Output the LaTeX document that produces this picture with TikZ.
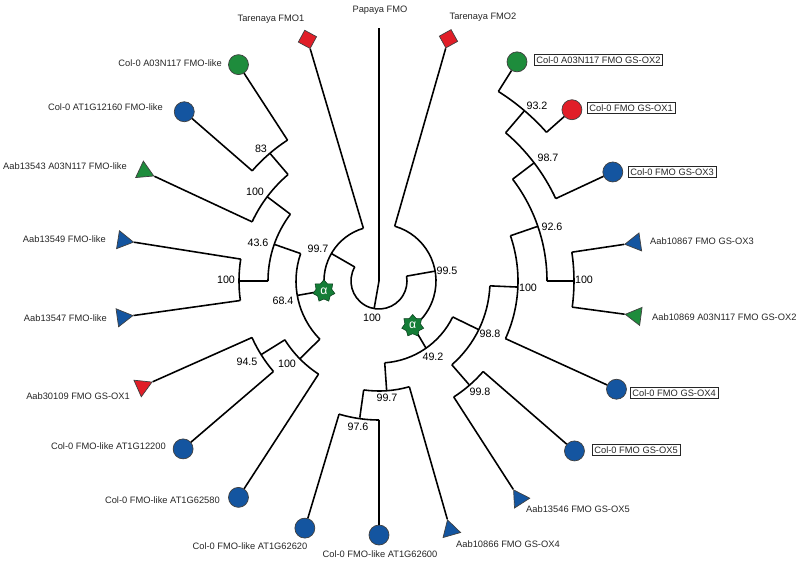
\documentclass[tikz,border=0pt]{standalone}
\usepackage{fontspec}
\setmainfont{Liberation Sans}
\usetikzlibrary{shapes.geometric}

\definecolor{fmoblue}{RGB}{20,85,160}
\definecolor{fmogreen}{RGB}{30,140,60}
\definecolor{fmored}{RGB}{225,30,40}
\definecolor{stargreen}{RGB}{20,125,55}

\tikzset{
	br/.style={line width=0.9pt},
	mk/.style={draw=black!75,line width=0.4pt,inner sep=0pt},
	dot/.style={mk,circle,minimum size=0.4cm,fill=#1},
	tri/.style={mk,regular polygon,regular polygon sides=3,minimum size=0.42cm,shape border rotate=#1},
	sq/.style={mk,regular polygon,regular polygon sides=4,minimum size=0.38cm,fill=fmored,shape border rotate=#1},
	alf/.style={star,star points=7,star point ratio=1.4,fill=stargreen,draw=black!50!stargreen,line width=0.3pt,inner sep=0.8pt,minimum size=0.45cm,text=white,font=\fontsize{7}{8}\selectfont},
	leaf/.style={inner sep=0.5pt,font=\fontsize{5.3}{6}\selectfont,text=black!85},
	boxed/.style={leaf,draw=black!85,line width=0.35pt,inner sep=1.2pt},
	bs/.style={inner sep=0pt,font=\fontsize{6.1}{7}\selectfont},
}

\begin{document}
\begin{tikzpicture}[scale=0.02]
	\useasboundingbox (-379,-280) rectangle (421,281);
	% leaf markers
	\node[sq=61.5] (tar1) at (106.5:252) {};
	\node[sq=29] (tar2) at (74:252) {};
	\node[dot=fmogreen] (a03like) at (123:258) {};
	\node[dot=fmoblue] (at12160) at (139:258) {};
	\node[tri=245,fill=fmogreen] (aab13543) at (155:259) {};
	\node[tri=261,fill=fmoblue] (aab13549) at (171:259) {};
	\node[tri=278,fill=fmoblue] (aab13547) at (188:259) {};
	\node[tri=294,fill=fmored] (aab30109) at (204:259) {};
	\node[dot=fmoblue] (at12200) at (220.6:258) {};
	\node[dot=fmoblue] (at62580) at (237:258) {};
	\node[dot=fmoblue] (at62620) at (253.3:258) {};
	\node[dot=fmoblue] (at62600) at (270:254) {};
	\node[tri=16,fill=fmoblue] (aab10866) at (286:259) {};
	\node[tri=32.8,fill=fmoblue] (aab13546) at (302.8:259) {};
	\node[dot=fmoblue] (ox5) at (-41:259) {};
	\node[dot=fmoblue] (ox4) at (-24.5:261) {};
	\node[tri=82.3,fill=fmogreen] (aab10869) at (-7.7:259) {};
	\node[tri=98.5,fill=fmoblue] (aab10867) at (8.5:259) {};
	\node[dot=fmoblue] (ox3) at (25:258) {};
	\node[dot=fmored] (ox1) at (41.6:258) {};
	\node[dot=fmogreen] (ox2) at (57.8:259) {};

	% root
	\coordinate (root) at (260:28);
	\draw[br] (root) -- (0,0) -- (0,253) coordinate (papaya);
	\draw[br] (150:28) arc[start angle=150, end angle=370, radius=28];

	% left half
	\coordinate (n997) at (150:55);
	\draw[br] (150:28) -- (n997);
	\draw[br] (106.5:55) arc[start angle=106.5, end angle=190, radius=55];
	\draw[br] (106.5:55) -- (tar1);
	\coordinate (n684) at (190:83);
	\draw[br] (190:55) -- (n684);
	\draw[br] (160.7:83) arc[start angle=160.7, end angle=224.5, radius=83];
	\coordinate (n436) at (160.7:111);
	\draw[br] (160.7:83) -- (n436);
	\draw[br] (143:111) arc[start angle=143, end angle=180, radius=111];
	\coordinate (n100a) at (143:140);
	\draw[br] (143:111) -- (n100a);
	\draw[br] (130.5:140) arc[start angle=130.5, end angle=155, radius=140];
	\coordinate (n83) at (130.5:168);
	\draw[br] (130.5:140) -- (n83);
	\draw[br] (123:168) arc[start angle=123, end angle=139, radius=168];
	\draw[br] (123:168) -- (a03like);
	\draw[br] (139:168) -- (at12160);
	\draw[br] (155:140) -- (aab13543);
	\coordinate (n100b) at (180:140);
	\draw[br] (180:111) -- (n100b);
	\draw[br] (171:140) arc[start angle=171, end angle=188, radius=140];
	\draw[br] (171:140) -- (aab13549);
	\draw[br] (188:140) -- (aab13547);
	\coordinate (n100c) at (224.5:111);
	\draw[br] (224.5:83) -- (n100c);
	\draw[br] (212:111) arc[start angle=212, end angle=237, radius=111];
	\coordinate (n945) at (212:139);
	\draw[br] (212:111) -- (n945);
	\draw[br] (204:139) arc[start angle=204, end angle=220.6, radius=139];
	\draw[br] (204:139) -- (aab30109);
	\draw[br] (220.6:139) -- (at12200);
	\draw[br] (237:111) -- (at62580);

	% right half
	\coordinate (n995) at (10:57);
	\draw[br] (10:28) -- (n995);
	\draw[br] (74:57) arc[start angle=74, end angle=-53, radius=57];
	\draw[br] (74:57) -- (tar2);
	\coordinate (n492) at (-55:82);
	\draw[br] (-53:57) -- (n492);
	\draw[br] (-26:82) arc[start angle=-26, end angle=-86, radius=82];
	\coordinate (n997b) at (-86:110);
	\draw[br] (-86:82) -- (n997b);
	\draw[br] (-98:110) arc[start angle=-98, end angle=-74, radius=110];
	\coordinate (n976) at (-98:138);
	\draw[br] (-98:110) -- (n976);
	\draw[br] (-106.7:139) arc[start angle=-106.7, end angle=-90, radius=139];
	\draw[br] (-106.7:139) -- (at62620);
	\draw[br] (-90:139) -- (at62600);
	\draw[br] (-74:110) -- (aab10866);
	\coordinate (n988) at (-26:111);
	\draw[br] (-26:82) -- (n988);
	\draw[br] (-2.5:111) arc[start angle=-2.5, end angle=-49, radius=111];
	\coordinate (n100d) at (-2.5:139);
	\draw[br] (-2.5:111) -- (n100d);
	\draw[br] (19:139) arc[start angle=19, end angle=-24.5, radius=139];
	\coordinate (n926) at (19:168);
	\draw[br] (19:139) -- (n926);
	\draw[br] (37.3:168) arc[start angle=37.3, end angle=0, radius=168];
	\coordinate (n987) at (37.3:195);
	\draw[br] (37.3:168) -- (n987);
	\draw[br] (49.5:195) arc[start angle=49.5, end angle=25, radius=195];
	\coordinate (n932) at (49.5:224);
	\draw[br] (49.5:195) -- (n932);
	\draw[br] (57.8:224) arc[start angle=57.8, end angle=41.6, radius=224];
	\draw[br] (57.8:224) -- (ox2);
	\draw[br] (41.6:224) -- (ox1);
	\draw[br] (25:195) -- (ox3);
	\coordinate (n100e) at (0:195);
	\draw[br] (0:168) -- (n100e);
	\draw[br] (8.5:195) arc[start angle=8.5, end angle=-7.7, radius=195];
	\draw[br] (8.5:195) -- (aab10867);
	\draw[br] (-7.7:195) -- (aab10869);
	\draw[br] (-24.5:139) -- (ox4);
	\coordinate (n998) at (-49:137);
	\draw[br] (-49:111) -- (n998);
	\draw[br] (-41:138) arc[start angle=-41, end angle=-57.2, radius=138];
	\draw[br] (-41:138) -- (ox5);
	\draw[br] (-57.2:138) -- (aab13546);

	% alpha marks
	\node[alf] (alpha1) at (190.3:56) {α};
	\node[alf] (alpha2) at (-53:56) {α};

	% bootstrap values
	\node[bs] (b-root) at (-7,-37) {100};
	\node[bs] (b-997) at (-61,32) {99.7};
	\node[bs] (b-995) at (68,10) {99.5};
	\node[bs] (b-684) at (-96,-20) {68.4};
	\node[bs] (b-436) at (-121,38) {43.6};
	\node[bs] (b-100b) at (-153,1) {100};
	\node[bs] (b-100a) at (-124,89) {100};
	\node[bs] (b-83) at (-118,132) {83};
	\node[bs] (b-945) at (-132,-81) {94.5};
	\node[bs] (b-100c) at (-92,-83) {100};
	\node[bs] (b-492) at (54,-76) {49.2};
	\node[bs] (b-997b) at (8,-117) {99.7};
	\node[bs] (b-976) at (-21,-146) {97.6};
	\node[bs] (b-998) at (101,-111) {99.8};
	\node[bs] (b-988) at (111,-53) {98.8};
	\node[bs] (b-100d) at (149,-7) {100};
	\node[bs] (b-100e) at (205,1) {100};
	\node[bs] (b-926) at (173,54) {92.6};
	\node[bs] (b-987) at (169,123) {98.7};
	\node[bs] (b-932) at (158,175) {93.2};

	% leaf names
	\node[leaf] (t-papaya) at (1,271) {Papaya FMO};
	\node[leaf] (t-tar1) at (-108,262) {Tarenaya FMO1};
	\node[leaf] (t-tar2) at (104,264) {Tarenaya FMO2};
	\node[leaf,anchor=east] (t-a03like) at (-156,218) {Col-0 A03N117 FMO-like};
	\node[leaf,anchor=east] (t-at12160) at (-215,174) {Col-0 AT1G12160 FMO-like};
	\node[leaf,anchor=east] (t-aab13543) at (-251,115) {Aab13543 A03N117 FMO-like};
	\node[leaf,anchor=east] (t-aab13549) at (-272,42) {Aab13549 FMO-like};
	\node[leaf,anchor=east] (t-aab13547) at (-271,-37) {Aab13547 FMO-like};
	\node[leaf,anchor=east] (t-aab30109) at (-248,-115) {Aab30109 FMO GS-OX1};
	\node[leaf,anchor=east] (t-at12200) at (-212,-165) {Col-0 FMO-like AT1G12200};
	\node[leaf,anchor=east] (t-at62580) at (-158,-219) {Col-0 FMO-like AT1G62580};
	\node[leaf] (t-at62620) at (-129,-265) {Col-0 FMO-like AT1G62620};
	\node[leaf] (t-at62600) at (1,-273) {Col-0 FMO-like AT1G62600};
	\node[leaf,anchor=west] (t-aab10866) at (76,-263) {Aab10866 FMO GS-OX4};
	\node[leaf,anchor=west] (t-aab13546) at (146,-228) {Aab13546 FMO GS-OX5};
	\node[boxed,anchor=west] (t-ox5) at (213,-169) {Col-0 FMO GS-OX5};
	\node[boxed,anchor=west] (t-ox4) at (251,-112) {Col-0 FMO GS-OX4};
	\node[leaf,anchor=west] (t-aab10869) at (272,-36) {Aab10869 A03N117 FMO GS-OX2};
	\node[leaf,anchor=west] (t-aab10867) at (270,40) {Aab10867 FMO GS-OX3};
	\node[boxed,anchor=west] (t-ox3) at (249,109) {Col-0 FMO GS-OX3};
	\node[boxed,anchor=west] (t-ox1) at (208,173) {Col-0 FMO GS-OX1};
	\node[boxed,anchor=west] (t-ox2) at (155,221) {Col-0 A03N117 FMO GS-OX2};
\end{tikzpicture}
\end{document}
